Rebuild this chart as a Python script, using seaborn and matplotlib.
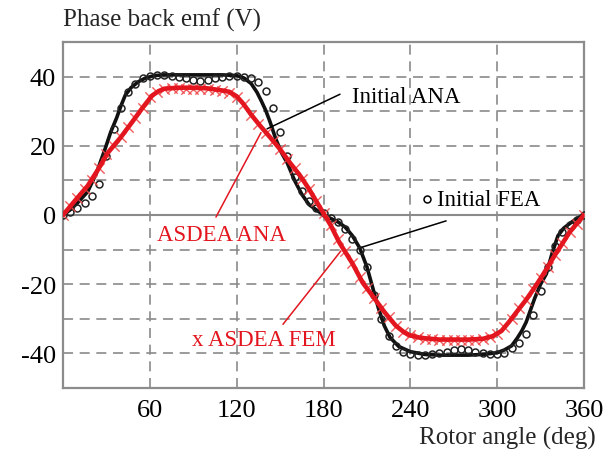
import numpy as np
import pandas as pd
import matplotlib
matplotlib.use("Agg")
import matplotlib.pyplot as plt
import seaborn as sns

# ---------------- data ----------------
ana_init_x = [0, 5, 10, 17, 23, 29, 33, 37, 40, 43, 47, 52, 57, 63, 70, 80, 90, 100, 110, 120,
              125, 130, 134, 137, 140, 143, 147, 151, 155, 160, 165, 170, 175, 180, 185, 190,
              195, 200, 205, 210, 214, 218, 222, 226, 232, 240, 250, 260, 270, 280, 290, 300,
              305, 310, 314, 317, 320, 323, 326, 330, 334, 338, 342, 346, 350, 355, 360]
ana_init_y = [0, 1.5, 3.5, 6.7, 12, 19, 24, 28, 31.5, 34.6, 36.8, 38.5, 39.6, 40.3, 40.5, 40.5, 40.5, 40.5, 40.5, 40.3,
              39.6, 38, 35.5, 33, 30.3, 27, 22, 18, 15, 10, 6, 3, 1.5, 0, -1, -2,
              -3.5, -6, -9.5, -15, -21, -27, -32, -35.4, -38, -39.5, -40.3, -40.5, -40.5, -40.5, -40.3, -39.8,
              -39, -37.8, -35.5, -33.5, -31, -27.5, -24, -20, -17, -11, -6, -3.8, -2.5, -1, 0]

ana_asdea_x = [0, 5, 10, 17, 24, 31, 40, 48, 55, 61.5, 66, 70, 80, 90, 100, 110, 115, 120, 124.5, 130,
               136, 143, 150, 157, 163.8, 170, 175, 180, 185, 191, 200, 207, 215, 222, 230, 236, 240,
               247, 260, 270, 280, 290, 297, 303, 308, 313.5, 320, 325, 329.6, 335, 340, 345.6, 350, 355, 360]
ana_asdea_y = [0, 2.5, 5, 8.4, 13, 18, 22.5, 27, 31, 34.5, 35.8, 36.5, 36.8, 36.8, 36.6, 36, 35.6, 34.3, 32.2, 29,
               25.9, 22.5, 19, 15, 11.4, 7.5, 4, 0.5, -3, -8, -14, -19.5, -24, -28, -32, -34, -34.8,
               -35.5, -36, -36, -36, -35.8, -35, -33.5, -31, -28, -24.5, -21.5, -18.6, -15, -11.5, -7.9, -5, -2.5, 0]

fea_init_x = list(range(0, 361, 5))
fea_init_y = [0, 1, 2, 3.5, 5.5, 9, 17, 25, 31, 35.5, 38, 39.5, 40.3, 40.5, 40.5, 40.3, 40, 39.5, 39, 38.8,
              39, 39.5, 40, 40.3, 40.3, 40, 39.5, 38.5, 35.8, 31, 24, 17, 11, 7, 4, 2, 0.5,
              -1, -2, -4, -7, -10, -15, -23, -30, -35, -38, -39.5, -40.2, -40.5, -40.5, -40.3, -40, -39.5, -39,
              -38.8, -39, -39.5, -40, -40.3, -40.2, -39.8, -38.5, -37, -34.5, -29, -22, -15, -9, -5, -3, -1.5, 0]

fem_asdea_x = list(range(0, 361, 5))
fem_asdea_y = [0, 2.5, 5, 7.5, 10, 13.5, 17.5, 20, 22.5, 25.5, 28, 31, 34, 35.5, 36.3, 36.6, 36.6, 36.5, 36.4, 36.4,
               36.4, 36.2, 35.8, 35.3, 34.2, 32, 29, 26.3, 23.8, 21.3, 19, 16.3, 13.5, 10.5, 7.5, 4, 0.5,
               -3, -7, -10.5, -14, -18, -21, -24, -27, -29.5, -32, -33.8, -34.8, -35.4, -35.7, -35.9, -36, -36, -36,
               -36, -36, -36, -35.8, -35.3, -34.5, -32.5, -30, -27, -24.5, -21.5, -18.3, -15, -11.5, -8, -5, -2.5, 0]

x_ticks = [60, 120, 180, 240, 300, 360]
y_ticks = [-40, -30, -20, -10, 0, 10, 20, 30, 40]
y_tick_labels = ["-40", "", "-20", "", "0", "", "20", "", "40"]

# ---------------- styling ----------------
sns.set_theme(style="white")
plt.rcParams["font.family"] = ["Liberation Serif", "DejaVu Serif"]

RED = "#e3161f"
GRID = "#8a8a8a"

fig = plt.figure(figsize=(6.03, 4.52), dpi=100)
ax = fig.add_axes([63 / 603, 1 - 389 / 452, 521 / 603, 346 / 452])

df_ana = pd.DataFrame({"x": ana_init_x, "y": ana_init_y})
df_asd = pd.DataFrame({"x": ana_asdea_x, "y": ana_asdea_y})
df_fea = pd.DataFrame({"x": fea_init_x, "y": fea_init_y})
df_fem = pd.DataFrame({"x": fem_asdea_x, "y": fem_asdea_y})

sns.lineplot(data=df_ana, x="x", y="y", sort=False, color="#111111", linewidth=2.6, ax=ax, zorder=3)
sns.lineplot(data=df_fea, x="x", y="y", sort=False, linestyle="", marker="o", markersize=5,
             markerfacecolor="none", markeredgecolor="#222222", markeredgewidth=1.1, ax=ax, zorder=4)
sns.scatterplot(data=df_fem, x="x", y="y", marker="x", s=55, color="#f04a4a",
                linewidth=1.0, alpha=0.9, ax=ax, zorder=5)
sns.lineplot(data=df_asd, x="x", y="y", sort=False, color=RED, linewidth=3.3, ax=ax, zorder=6)

ax.set_xlim(0, 360)
ax.set_ylim(-50, 50)
ax.set_xticks(x_ticks)
ax.set_yticks(y_ticks)
ax.set_yticklabels(y_tick_labels)
ax.tick_params(axis="both", length=0, labelsize=19, colors="black")
ax.tick_params(axis="x", pad=8)
ax.tick_params(axis="y", pad=5)
ax.grid(True, linestyle=(0, (6, 4)), color=GRID, linewidth=1.2)
ax.axhline(0, color=GRID, linewidth=1.5, zorder=2)
for s in ax.spines.values():
    s.set_color("#8c8c8c")
    s.set_linewidth(1.6)
ax.set_xlabel("")
ax.set_ylabel("")

fig.text(63 / 603, 1 - 20 / 452, "Phase back emf (V)", fontsize=18, ha="left", va="center")
fig.text(596 / 603, 1 - 438 / 452, "Rotor angle (deg)", fontsize=18, ha="right", va="center")

# annotations
ax.plot([191.4, 141], [34.9, 24.9], color="black", linewidth=1.1, zorder=7)
ax.text(199.7, 34.2, "Initial ANA", fontsize=16.5, color="black", ha="left", va="center", zorder=8)

ax.plot([105.7, 136.8], [-0.6, 23.8], color=RED, linewidth=1.1, zorder=7)
ax.text(65, -5.5, "ASDEA ANA", fontsize=16.5, color=RED, ha="left", va="center", zorder=8)

ax.plot([264.7, 206.6], [-1.7, -9.3], color="black", linewidth=1.1, zorder=7)
ax.plot([251.5], [4.6], marker="o", markersize=5, markerfacecolor="none",
        markeredgecolor="black", markeredgewidth=1.1, zorder=8)
ax.text(258.5, 4.6, "Initial FEA", fontsize=16.5, color="black", ha="left", va="center", zorder=8)

ax.plot([152, 192], [-31.6, -10.4], color=RED, linewidth=1.1, zorder=7)
ax.text(89, -36, "x ASDEA FEM", fontsize=16.5, color=RED, ha="left", va="center", zorder=8)

fig.savefig("out.png", dpi=100, facecolor="white")
